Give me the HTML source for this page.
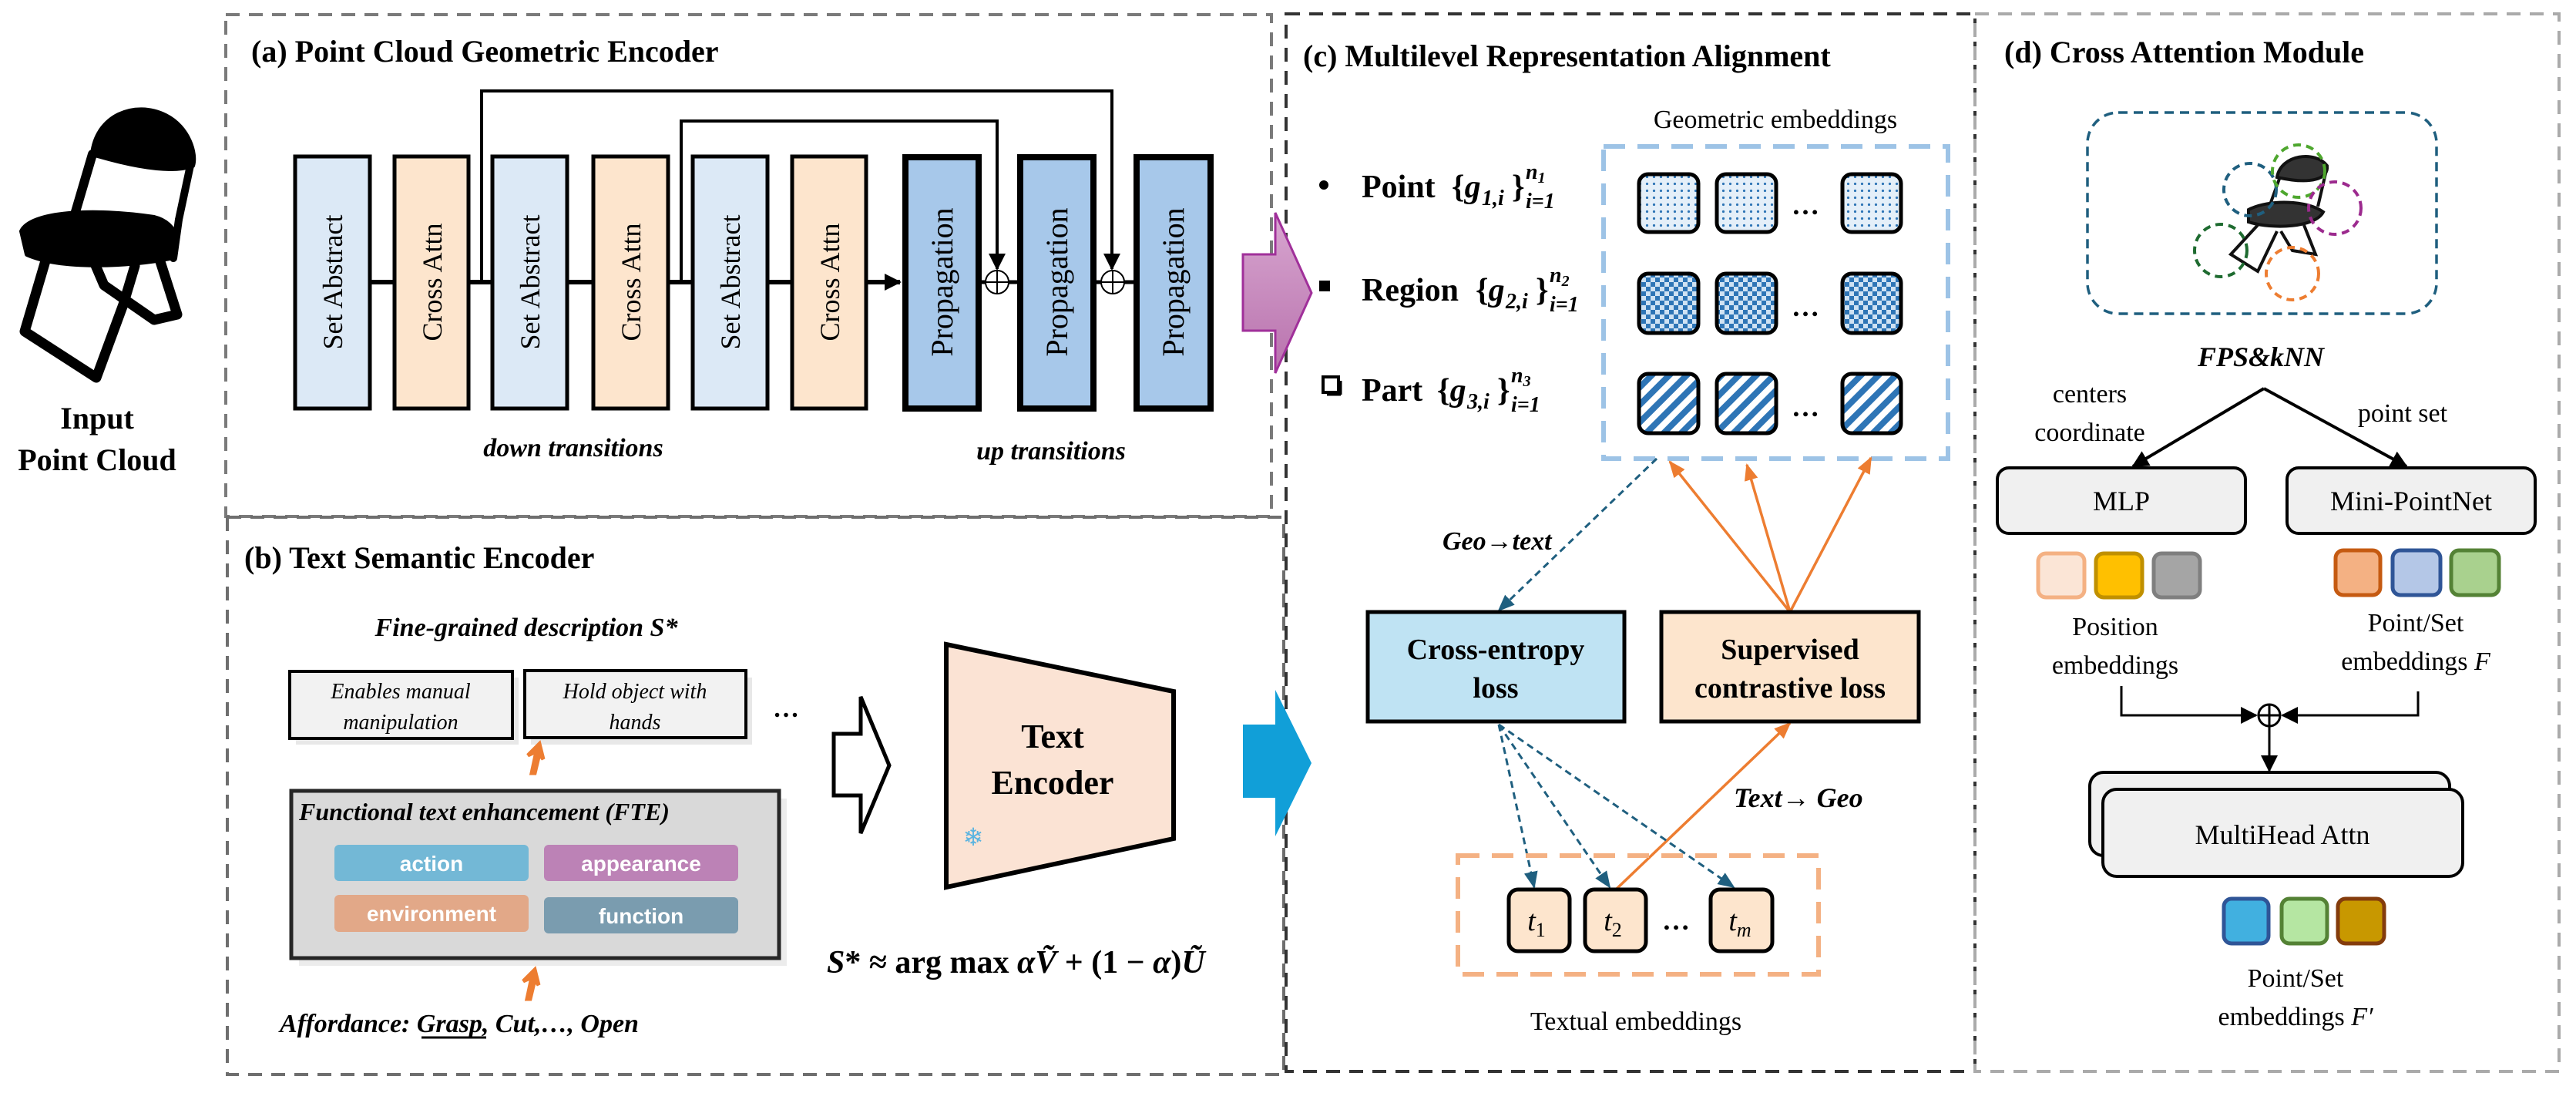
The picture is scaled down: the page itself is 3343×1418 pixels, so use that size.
<!DOCTYPE html>
<html><head><meta charset="utf-8"><style>
html,body{margin:0;padding:0;background:#fff;}
svg{display:block;}
text{font-family:"Liberation Serif",serif;}
</style></head><body>
<svg width="3343" height="1418" viewBox="0 0 3343 1418" xmlns="http://www.w3.org/2000/svg">
<defs>
<pattern id="dots" width="9" height="9" patternUnits="userSpaceOnUse"><rect width="9" height="9" fill="#e4eff9"/><circle cx="4.5" cy="4.5" r="1.6" fill="#2e75b6"/></pattern>
<pattern id="chk" width="12" height="12" patternUnits="userSpaceOnUse"><rect width="12" height="12" fill="#cfe2f3"/><rect width="6" height="6" fill="#2e75b6"/><rect x="6" y="6" width="6" height="6" fill="#2e75b6"/></pattern>
<pattern id="str" width="16" height="16" patternUnits="userSpaceOnUse" patternTransform="rotate(45)"><rect width="16" height="16" fill="#fff"/><rect width="8" height="16" fill="#2e75b6"/></pattern>
<linearGradient id="pg" x1="0" y1="0" x2="0" y2="1"><stop offset="0" stop-color="#d8a6d0"/><stop offset="1" stop-color="#b872ad"/></linearGradient>
<marker id="ab2" markerWidth="22" markerHeight="22" refX="20" refY="11" orient="auto" markerUnits="userSpaceOnUse"><path d="M0,0 L22,11 L0,22z" fill="#000"/></marker>
<marker id="ao" markerWidth="22" markerHeight="22" refX="20" refY="11" orient="auto" markerUnits="userSpaceOnUse"><path d="M0,2 L22,11 L0,20z" fill="#ed7d31"/></marker>
<marker id="at" markerWidth="22" markerHeight="22" refX="20" refY="11" orient="auto" markerUnits="userSpaceOnUse"><path d="M0,2 L22,11 L0,20z" fill="#1f5f7f"/></marker>
</defs>

<rect x="293" y="19" width="1357" height="651" fill="none" stroke="#7a7a7a" stroke-width="4" stroke-dasharray="18,12"/>
<rect x="295" y="671" width="1371" height="723" fill="none" stroke="#6e6e6e" stroke-width="4" stroke-dasharray="18,12"/>
<rect x="1669" y="18" width="894" height="1372" fill="none" stroke="#333" stroke-width="4" stroke-dasharray="18,12"/>
<rect x="2563" y="18" width="758" height="1372" fill="none" stroke="#aaa" stroke-width="4" stroke-dasharray="18,12"/>

<g stroke="#000" fill="none" stroke-linecap="round" stroke-linejoin="round">
<path d="M120,200 C125,150 175,130 215,150 C245,165 255,200 250,215 C220,225 170,215 120,200Z" fill="#000" stroke-width="6"/>
<path d="M120,200 L95,285" stroke-width="12"/>
<path d="M248,210 L232,285" stroke-width="10"/>
<path d="M28,300 C40,275 120,270 200,282 C232,290 235,320 220,335 C170,345 80,350 35,330Z" fill="#000" stroke-width="6"/>
<path d="M60,335 L32,430 L125,490 L160,395 L175,345" stroke-width="13"/>
<path d="M205,330 L230,408 L200,415 L135,370 L120,335" stroke-width="13"/>
<path d="M232,285 L225,335" stroke-width="10"/>
</g>
<text x="126" y="556" font-size="40" font-weight="bold" text-anchor="middle">Input</text>
<text x="126" y="610" font-size="40" font-weight="bold" text-anchor="middle">Point Cloud</text>

<text x="326" y="80" font-size="40" font-weight="bold">(a) Point Cloud Geometric Encoder</text>
<polyline points="625,366 625,118 1443,118 1443,349" fill="none" stroke="#000" stroke-width="4" marker-end="url(#ab2)"/>
<polyline points="884,366 884,157 1294,157 1294,349" fill="none" stroke="#000" stroke-width="4" marker-end="url(#ab2)"/>
<line x1="481" y1="366" x2="1168" y2="366" stroke="#000" stroke-width="6" marker-end="url(#ab2)"/>
<line x1="1272" y1="366" x2="1320" y2="366" stroke="#000" stroke-width="5"/>
<line x1="1421" y1="366" x2="1471" y2="366" stroke="#000" stroke-width="5"/>
<g stroke="#000" fill="#fff" stroke-width="2"><circle cx="1294" cy="366" r="15"/><circle cx="1444" cy="366" r="15"/></g>
<g stroke="#000" stroke-width="2"><line x1="1279" y1="366" x2="1309" y2="366"/><line x1="1294" y1="351" x2="1294" y2="381"/><line x1="1429" y1="366" x2="1459" y2="366"/><line x1="1444" y1="351" x2="1444" y2="381"/></g>
<g stroke="#000" stroke-width="5">
<rect x="383" y="203" width="97" height="327" fill="#dce9f6"/>
<rect x="512" y="203" width="96" height="327" fill="#fde5cd"/>
<rect x="639" y="203" width="97" height="327" fill="#dce9f6"/>
<rect x="770" y="203" width="97" height="327" fill="#fde5cd"/>
<rect x="899" y="203" width="97" height="327" fill="#dce9f6"/>
<rect x="1028" y="203" width="96" height="327" fill="#fde5cd"/>
</g>
<g stroke="#000" stroke-width="8" fill="#a7c8ea">
<rect x="1175" y="204" width="95" height="326"/>
<rect x="1324" y="204" width="95" height="326"/>
<rect x="1475" y="204" width="96" height="326"/>
</g>
<g font-size="36" text-anchor="middle">
<text transform="translate(444,366) rotate(-90)">Set Abstract</text>
<text transform="translate(573,366) rotate(-90)">Cross Attn</text>
<text transform="translate(700,366) rotate(-90)">Set Abstract</text>
<text transform="translate(831,366) rotate(-90)">Cross Attn</text>
<text transform="translate(960,366) rotate(-90)">Set Abstract</text>
<text transform="translate(1089,366) rotate(-90)">Cross Attn</text>
</g>
<g font-size="40" text-anchor="middle">
<text transform="translate(1236,366) rotate(-90)">Propagation</text>
<text transform="translate(1385,366) rotate(-90)">Propagation</text>
<text transform="translate(1536,366) rotate(-90)">Propagation</text>
</g>
<text x="744" y="592" font-size="34" font-weight="bold" font-style="italic" text-anchor="middle">down transitions</text>
<text x="1364" y="596" font-size="34" font-weight="bold" font-style="italic" text-anchor="middle">up transitions</text>

<path d="M1613,330 L1655,330 L1655,276 L1702,380 L1655,484 L1655,429 L1613,429Z" fill="url(#pg)" stroke="#a0309a" stroke-width="3"/>
<path d="M1613,940 L1655,940 L1655,895 L1702,990 L1655,1085 L1655,1035 L1613,1035Z" fill="#119fd8"/>

<text x="317" y="737" font-size="40" font-weight="bold">(b) Text Semantic Encoder</text>
<text x="683" y="825" font-size="34" font-weight="bold" font-style="italic" text-anchor="middle">Fine-grained description S*</text>
<rect x="384" y="879" width="289" height="87" fill="#e8e8e8"/>
<rect x="689" y="879" width="287" height="87" fill="#e8e8e8"/>
<rect x="376" y="871" width="289" height="87" fill="#f2f2f2" stroke="#000" stroke-width="4"/>
<rect x="681" y="870" width="287" height="87" fill="#f2f2f2" stroke="#000" stroke-width="4"/>
<g font-size="28" font-style="italic" text-anchor="middle">
<text x="520" y="906">Enables manual</text><text x="520" y="946">manipulation</text>
<text x="824" y="906">Hold object with</text><text x="824" y="946">hands</text>
</g>
<text x="1003" y="930" font-size="34" font-weight="bold">…</text>
<path d="M690,1003 L696,975 L685,980 L700,965 L705,985 L700,978 L694,1003Z" fill="#ed7d31" stroke="#ed7d31" stroke-width="5"/>
<path d="M684,1296 L690,1268 L679,1273 L694,1258 L699,1278 L694,1271 L688,1296Z" fill="#ed7d31" stroke="#ed7d31" stroke-width="5"/>
<rect x="388" y="1036" width="633" height="217" fill="#e0e0e0" opacity="0.6"/>
<rect x="378" y="1026" width="633" height="217" fill="#d9d9d9" stroke="#262626" stroke-width="5"/>
<text x="388" y="1064" font-size="32" font-weight="bold" font-style="italic">Functional text enhancement (FTE)</text>
<rect x="434" y="1096" width="252" height="47" rx="6" fill="#73b8d6"/>
<rect x="706" y="1096" width="252" height="47" rx="6" fill="#bc82b6"/>
<rect x="434" y="1161" width="252" height="48" rx="6" fill="#e2a888"/>
<rect x="706" y="1164" width="252" height="47" rx="6" fill="#7a9caf"/>
<g fill="#fff" font-size="28" font-weight="bold" text-anchor="middle" style="font-family:'Liberation Sans',sans-serif">
<text x="560" y="1130" style="font-family:'Liberation Sans',sans-serif">action</text><text x="832" y="1130" style="font-family:'Liberation Sans',sans-serif">appearance</text>
<text x="560" y="1195" style="font-family:'Liberation Sans',sans-serif">environment</text><text x="832" y="1198" style="font-family:'Liberation Sans',sans-serif">function</text>
</g>
<text x="363" y="1339" font-size="34" font-weight="bold" font-style="italic">Affordance: Grasp, Cut,…, Open</text>
<line x1="547" y1="1346" x2="631" y2="1346" stroke="#000" stroke-width="3"/>
<path d="M1082,952 L1117,952 L1117,904 L1154,993 L1117,1081 L1117,1032 L1082,1032Z" fill="#fff" stroke="#000" stroke-width="5"/>
<path d="M1228,836 L1523,897 L1523,1088 L1228,1151Z" fill="#fbe3d4" stroke="#000" stroke-width="6"/>
<text x="1366" y="970" font-size="44" font-weight="bold" text-anchor="middle">Text</text>
<text x="1366" y="1030" font-size="44" font-weight="bold" text-anchor="middle">Encoder</text>
<text x="1263" y="1097" font-size="32" fill="#5bb4e0" text-anchor="middle">❄</text>
<text x="1073" y="1262" font-size="42" font-weight="bold"><tspan font-style="italic">S</tspan>* ≈ arg max <tspan font-style="italic">αṼ</tspan> + (1 − <tspan font-style="italic">α</tspan>)<tspan font-style="italic">Ũ</tspan></text>

<text x="1691" y="86" font-size="40" font-weight="bold">(c) Multilevel Representation Alignment</text>
<text x="2304" y="166" font-size="34" text-anchor="middle">Geometric embeddings</text>
<rect x="2081" y="190" width="447" height="405" fill="none" stroke="#9dc3e6" stroke-width="6" stroke-dasharray="28,16"/>
<g stroke="#000" stroke-width="5">
<rect x="2127" y="226" width="77" height="75" rx="12" fill="url(#dots)"/>
<rect x="2228" y="226" width="77" height="75" rx="12" fill="url(#dots)"/>
<rect x="2391" y="226" width="76" height="75" rx="12" fill="url(#dots)"/>
<rect x="2127" y="355" width="77" height="77" rx="12" fill="url(#chk)"/>
<rect x="2228" y="355" width="77" height="77" rx="12" fill="url(#chk)"/>
<rect x="2391" y="355" width="76" height="77" rx="12" fill="url(#chk)"/>
<rect x="2127" y="485" width="77" height="77" rx="12" fill="url(#str)"/>
<rect x="2228" y="485" width="77" height="77" rx="12" fill="url(#str)"/>
<rect x="2391" y="485" width="76" height="77" rx="12" fill="url(#str)"/>
</g>
<g font-size="36" font-weight="bold"><text x="2325" y="278">…</text><text x="2325" y="410">…</text><text x="2325" y="540">…</text></g>
<circle cx="1718" cy="240" r="6" fill="#000"/>
<rect x="1712" y="364" width="14" height="14" fill="#000"/>
<rect x="1717" y="489" width="20" height="20" fill="#fff" stroke="#000" stroke-width="4"/>
<line x1="1722" y1="512" x2="1740" y2="512" stroke="#000" stroke-width="3"/><line x1="1740" y1="494" x2="1740" y2="512" stroke="#000" stroke-width="3"/>
<g font-weight="bold">
<text x="1767" y="256" font-size="42">Point</text>
<text x="1884" y="256" font-size="42">{<tspan font-style="italic">g</tspan></text>
<text x="1923" y="266" font-size="28" font-style="italic">1,i</text>
<text x="1962" y="256" font-size="42">}</text>
<text x="1980" y="232" font-size="28" font-style="italic">n<tspan font-size="20" dy="5">1</tspan></text>
<text x="1980" y="270" font-size="28" font-style="italic">i=1</text>

<text x="1767" y="390" font-size="42">Region</text>
<text x="1915" y="390" font-size="42">{<tspan font-style="italic">g</tspan></text>
<text x="1954" y="400" font-size="28" font-style="italic">2,i</text>
<text x="1993" y="390" font-size="42">}</text>
<text x="2011" y="366" font-size="28" font-style="italic">n<tspan font-size="20" dy="5">2</tspan></text>
<text x="2011" y="404" font-size="28" font-style="italic">i=1</text>

<text x="1767" y="520" font-size="42">Part</text>
<text x="1865" y="520" font-size="42">{<tspan font-style="italic">g</tspan></text>
<text x="1904" y="530" font-size="28" font-style="italic">3,i</text>
<text x="1943" y="520" font-size="42">}</text>
<text x="1961" y="496" font-size="28" font-style="italic">n<tspan font-size="20" dy="5">3</tspan></text>
<text x="1961" y="534" font-size="28" font-style="italic">i=1</text>
</g>
<line x1="2150" y1="595" x2="1945" y2="792" stroke="#1f5f7f" stroke-width="3" stroke-dasharray="9,6" marker-end="url(#at)"/>
<text x="1872" y="713" font-size="34" font-weight="bold" font-style="italic">Geo→text</text>
<g stroke="#ed7d31" stroke-width="3.5" marker-end="url(#ao)">
<line x1="2323" y1="794" x2="2167" y2="599"/>
<line x1="2323" y1="794" x2="2267" y2="603"/>
<line x1="2323" y1="794" x2="2428" y2="594"/>
<line x1="2098" y1="1153" x2="2323" y2="938"/>
</g>
<rect x="1775" y="794" width="333" height="142" fill="#bfe3f3" stroke="#000" stroke-width="5"/>
<rect x="2156" y="794" width="334" height="142" fill="#fde5cd" stroke="#000" stroke-width="5"/>
<g font-size="38" font-weight="bold" text-anchor="middle">
<text x="1941" y="855">Cross-entropy</text><text x="1941" y="905">loss</text>
<text x="2323" y="855">Supervised</text><text x="2323" y="905">contrastive loss</text>
</g>
<g stroke="#1f5f7f" stroke-width="3" stroke-dasharray="9,6" marker-end="url(#at)">
<line x1="1945" y1="940" x2="1991" y2="1151"/>
<line x1="1945" y1="940" x2="2089" y2="1151"/>
<line x1="1945" y1="940" x2="2250" y2="1151"/>
</g>
<text x="2250" y="1047" font-size="36" font-weight="bold" font-style="italic">Text→ Geo</text>
<rect x="1892" y="1110" width="468" height="154" fill="none" stroke="#f4b183" stroke-width="6" stroke-dasharray="28,16"/>
<g stroke="#000" stroke-width="5" fill="#fde5cd">
<rect x="1958" y="1154" width="79" height="80" rx="12"/>
<rect x="2057" y="1154" width="79" height="80" rx="12"/>
<rect x="2220" y="1154" width="80" height="80" rx="12"/>
</g>
<g font-size="38" font-style="italic" text-anchor="middle">
<text x="1994" y="1207">t<tspan font-size="26" dy="8" font-style="normal">1</tspan></text>
<text x="2093" y="1207">t<tspan font-size="26" dy="8" font-style="normal">2</tspan></text>
<text x="2258" y="1207">t<tspan font-size="26" dy="8">m</tspan></text>
</g>
<text x="2157" y="1206" font-size="36" font-weight="bold">…</text>
<text x="2123" y="1336" font-size="34" text-anchor="middle">Textual embeddings</text>

<text x="2601" y="81" font-size="40" font-weight="bold">(d) Cross Attention Module</text>
<rect x="2709" y="146" width="453" height="261" rx="40" fill="none" stroke="#1f5f7f" stroke-width="3.5" stroke-dasharray="12,8"/>
<g stroke="#111" fill="none" stroke-width="4">
<path d="M2955,230 C2960,200 3005,195 3020,215 C3022,232 3000,240 2955,230Z" fill="#333"/>
<path d="M2958,232 L2945,268 M3018,225 L3008,268"/>
<path d="M2918,272 C2945,258 2995,260 3015,275 C3005,295 2950,298 2918,288Z" fill="#333"/>
<path d="M2930,292 L2895,330 L2930,352 L2955,300 M2990,292 L3005,330 L2975,325 L2960,300"/>
</g>
<g fill="none" stroke-width="4" stroke-dasharray="10,7">
<circle cx="2920" cy="246" r="34" stroke="#1f5f7f"/>
<circle cx="2983" cy="222" r="34" stroke="#4ea72e"/>
<circle cx="3030" cy="270" r="34" stroke="#9c2a8e"/>
<circle cx="2882" cy="325" r="34" stroke="#1e6b30"/>
<circle cx="2975" cy="355" r="34" stroke="#ed7d31"/>
</g>
<text x="2934" y="475" font-size="36" font-weight="bold" font-style="italic" text-anchor="middle">FPS&amp;kNN</text>
<text x="2712" y="522" font-size="34" text-anchor="middle">centers</text>
<text x="2712" y="572" font-size="34" text-anchor="middle">coordinate</text>
<text x="3118" y="547" font-size="34" text-anchor="middle">point set</text>
<g stroke="#000" stroke-width="4" marker-end="url(#ab2)">
<line x1="2938" y1="504" x2="2768" y2="605"/>
<line x1="2938" y1="504" x2="3123" y2="605"/>
</g>
<rect x="2592" y="607" width="322" height="85" rx="15" fill="#f0f0f0" stroke="#000" stroke-width="4"/>
<rect x="2968" y="607" width="322" height="85" rx="15" fill="#f0f0f0" stroke="#000" stroke-width="4"/>
<text x="2753" y="662" font-size="36" text-anchor="middle">MLP</text>
<text x="3129" y="662" font-size="36" text-anchor="middle">Mini-PointNet</text>
<g stroke-width="5">
<rect x="2645" y="718" width="60" height="57" rx="10" fill="#fbe5d6" stroke="#f4b183"/>
<rect x="2720" y="718" width="60" height="57" rx="10" fill="#ffc000" stroke="#c09000"/>
<rect x="2795" y="718" width="60" height="57" rx="10" fill="#a5a5a5" stroke="#7f7f7f"/>
<rect x="3031" y="714" width="58" height="58" rx="10" fill="#f4b183" stroke="#c55a11"/>
<rect x="3105" y="714" width="62" height="58" rx="10" fill="#b4c7e7" stroke="#2f5597"/>
<rect x="3181" y="714" width="62" height="58" rx="10" fill="#a9d18e" stroke="#548235"/>
<rect x="2886" y="1166" width="58" height="58" rx="10" fill="#41b0e0" stroke="#2f5597"/>
<rect x="2961" y="1166" width="59" height="58" rx="10" fill="#b5e6a2" stroke="#548235"/>
<rect x="3034" y="1166" width="60" height="58" rx="10" fill="#c89800" stroke="#843c0c"/>
</g>
<g font-size="34" text-anchor="middle">
<text x="2745" y="824">Position</text><text x="2745" y="874">embeddings</text>
<text x="3135" y="819">Point/Set</text><text x="3135" y="869">embeddings <tspan font-style="italic">F</tspan></text>
<text x="2979" y="1280">Point/Set</text><text x="2979" y="1330">embeddings <tspan font-style="italic">F′</tspan></text>
</g>
<polyline points="2753,890 2753,928 2928,928" fill="none" stroke="#000" stroke-width="3" marker-end="url(#ab2)"/>
<polyline points="3138,897 3138,928 2962,928" fill="none" stroke="#000" stroke-width="3" marker-end="url(#ab2)"/>
<circle cx="2945" cy="928" r="14" fill="#fff" stroke="#000" stroke-width="3"/>
<line x1="2931" y1="928" x2="2959" y2="928" stroke="#000" stroke-width="3"/><line x1="2945" y1="914" x2="2945" y2="942" stroke="#000" stroke-width="3"/>
<line x1="2945" y1="942" x2="2945" y2="1000" stroke="#000" stroke-width="3" marker-end="url(#ab2)"/>
<rect x="2712" y="1002" width="467" height="108" rx="18" fill="#f0f0f0" stroke="#000" stroke-width="4"/>
<rect x="2729" y="1024" width="467" height="113" rx="18" fill="#f0f0f0" stroke="#000" stroke-width="4"/>
<text x="2962" y="1095" font-size="36" text-anchor="middle">MultiHead Attn</text>
</svg>
</body></html>
